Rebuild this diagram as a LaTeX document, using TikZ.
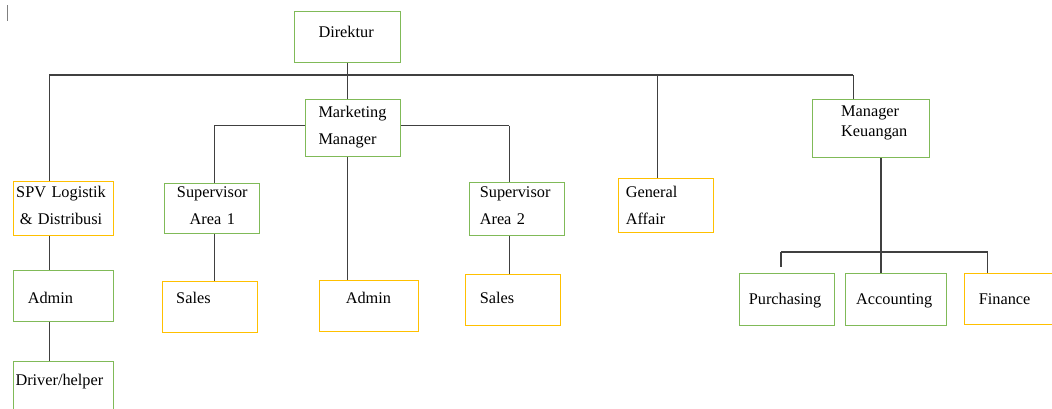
\documentclass[tikz,border=0pt]{standalone}
\usepackage{fontspec}
\setmainfont{Liberation Serif}
\newcommand{\orgfont}{\fontsize{16.3}{27}\selectfont}
\definecolor{boxgreen}{RGB}{128,186,88}
\definecolor{boxgold}{RGB}{255,192,0}
\definecolor{linkgray}{RGB}{64,64,64}
\tikzset{
  orgbox/.style={draw, fill=white, line width=1pt, anchor=north west, inner sep=0pt, align=left, font=\orgfont},
  green box/.style={orgbox, draw=boxgreen},
  gold box/.style={orgbox, draw=boxgold},
  pad/.style={execute at begin node={\leftskip=#1\relax}},
  link/.style={draw=linkgray, line width=1.1pt}
}

\begin{document}
\begin{tikzpicture}[x=1pt, y=-1pt]
  \clip (0,0) rectangle (1052,408);
  \draw[gray, line width=0.7pt] (7.3,5) -- (7.3,20.7);

  \node[green box, pad=24pt, text width=106pt, text height=25.8pt, text depth=25.8pt] (direktur) at (294,10.7) {Direktur};
  \node[green box, pad=13pt, text width=95pt, text height=18pt, text depth=39pt] (marketing) at (305,99) {Marketing\\Manager};
  \node[green box, pad=29pt, text width=117.6pt, text height=16.7pt, text depth=41pt] (keuangan) at (811.7,99.3) {Manager\\[-7pt]Keuangan};
  \node[gold box, pad=2.4pt, text width=100pt, text height=16pt, text depth=38.3pt] (spv) at (13.3,180.7) {SPV Logistik\\\hspace*{3.6pt}\& Distribusi};
  \node[green box, align=center, text width=95pt, text height=14pt, text depth=36.6pt] (sup1) at (164.3,182.7) {Supervisor\\Area 1};
  \node[green box, pad=10.3pt, text width=95.3pt, text height=15pt, text depth=38.6pt] (sup2) at (469,181.7) {Supervisor\\Area 2};
  \node[gold box, pad=7.6pt, text width=95pt, text height=18.4pt, text depth=35.6pt] (general) at (617.7,178.3) {General\\Affair};
  \node[green box, pad=14pt, text width=100pt, text height=33.3pt, text depth=17.4pt] (admin1) at (13.3,270) {Admin};
  \node[green box, pad=1.7pt, text width=100pt, text height=24.3pt, text depth=35pt] (driver) at (13.3,360.7) {Driver/helper};
  \node[gold box, pad=13.4pt, text width=95pt, text height=22.3pt, text depth=28.7pt] (sales1) at (162.3,281) {Sales};
  \node[gold box, pad=26pt, text width=99pt, text height=23.3pt, text depth=27.7pt] (admin2) at (319.3,280) {Admin};
  \node[gold box, pad=14.3pt, text width=95pt, text height=29.6pt, text depth=21.7pt] (sales2) at (465,273.7) {Sales};
  \node[green box, pad=9.3pt, text width=95.3pt, text height=30.7pt, text depth=21pt] (purchasing) at (739,273.3) {Purchasing};
  \node[green box, pad=10.7pt, text width=100.7pt, text height=30.7pt, text depth=21pt] (accounting) at (845,273.3) {Accounting};
  \node[gold box, pad=14pt, text width=100pt, text height=31pt, text depth=19.8pt] (finance) at (964.3,273) {Finance};

  % branch points
  \coordinate (logx) at (49.3,75);
  \coordinate (gax) at (657.7,75);
  \coordinate (keux) at (853.3,75);
  \coordinate (sup1x) at (214.3,125.5);
  \coordinate (sup2x) at (509.3,125.5);
  \coordinate (purx) at (781,252);
  \coordinate (acx) at (881,252);
  \coordinate (finx) at (987.7,252);
  \coordinate (purend) at (781,267.3);

  \path[link]
    (logx) -- (keux)
    (direktur.south) -- (direktur.south |- marketing.north)
    (logx) -- (logx |- spv.north)
    (spv.south -| logx) -- (admin1.north -| logx)
    (admin1.south -| logx) -- (driver.north -| logx)
    (gax) -- (gax |- general.north)
    (keux) -- (keux |- keuangan.north)
    (sup1x) -- (sup1x -| marketing.west)
    (marketing.east |- sup2x) -- (sup2x)
    (sup1x) -- (sup1x |- sup1.north)
    (sup1.south -| sup1x) -- (sales1.north -| sup1x)
    (sup2x) -- (sup2x |- sup2.north)
    (sup2.south -| sup2x) -- (sales2.north -| sup2x)
    (marketing.south -| direktur.south) -- (admin2.north -| direktur.south)
    (keuangan.south -| acx) -- (accounting.north -| acx)
    (purx) -- (finx)
    (purx) -- (purend)
    (finx) -- (finance.north -| finx);
\end{tikzpicture}
\end{document}
